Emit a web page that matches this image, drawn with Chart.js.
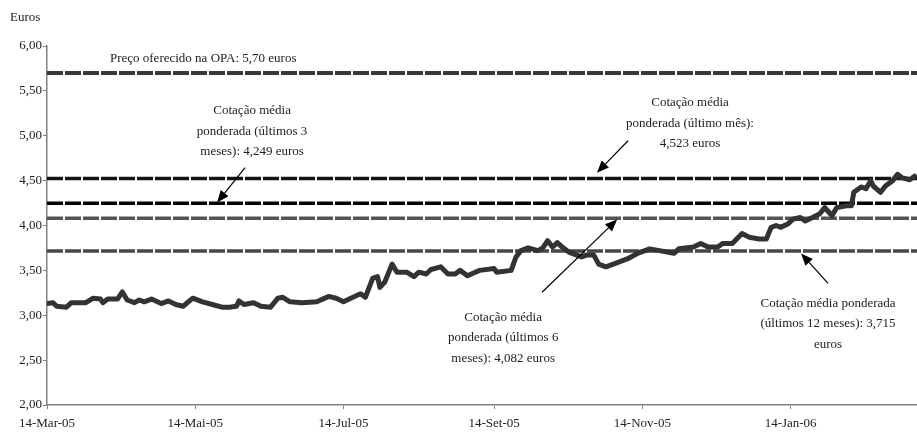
<!DOCTYPE html>
<html>
<head>
<meta charset="utf-8">
<script src="https://cdn.jsdelivr.net/npm/chart.js@4.4.1/dist/chart.umd.min.js"></script>
<style>
    body { margin: 0; background: #ffffff; }
    #chart { display: block; }
</style>
</head>
<body>
<canvas id="chart" width="917" height="432"></canvas>
<script>
// ===== DATA =====
// days counted from 14-Mar-05
const priceDays = [0, 2.5, 4, 8, 10, 16, 19, 22, 23, 25, 29, 31, 33, 36, 38, 40, 43, 47, 50, 53,
    56, 60, 64, 68, 72, 75, 78, 79, 81, 85, 88, 92, 95, 97, 100, 105, 111, 116, 119, 122,
    125, 129, 131, 134, 136, 137, 139, 142, 144, 148, 151, 153, 156, 158, 162, 165, 168, 170, 173, 178,
    184, 185, 191, 193, 195, 198, 202, 204, 206, 208, 210, 212, 215, 218, 220, 222, 225, 227, 230, 235,
    239, 243, 248, 252, 258, 260, 266, 269, 272, 276, 278, 282, 286, 289, 293, 296, 298, 300, 302, 305,
    307, 310, 312, 315, 318, 320, 321, 323, 325, 329, 331, 332, 335, 337, 339, 340, 343, 345, 348, 350,
    352, 355, 357];
const prices = [3.13, 3.14, 3.10, 3.09, 3.14, 3.14, 3.19, 3.18, 3.14, 3.18, 3.18, 3.26, 3.17, 3.14, 3.17, 3.15, 3.18, 3.13, 3.16, 3.12,
    3.10, 3.19, 3.15, 3.12, 3.09, 3.09, 3.10, 3.16, 3.12, 3.14, 3.10, 3.09, 3.19, 3.20, 3.15, 3.14, 3.15, 3.21, 3.19, 3.15,
    3.19, 3.24, 3.20, 3.41, 3.43, 3.31, 3.37, 3.57, 3.48, 3.48, 3.43, 3.48, 3.46, 3.51, 3.54, 3.46, 3.46, 3.50, 3.44, 3.50,
    3.52, 3.48, 3.50, 3.65, 3.72, 3.75, 3.72, 3.75, 3.83, 3.76, 3.81, 3.76, 3.70, 3.67, 3.65, 3.67, 3.67, 3.57, 3.54, 3.59,
    3.63, 3.69, 3.74, 3.72, 3.69, 3.74, 3.76, 3.80, 3.76, 3.76, 3.80, 3.80, 3.91, 3.87, 3.85, 3.85, 3.98, 4.00, 3.98, 4.02,
    4.07, 4.09, 4.05, 4.09, 4.13, 4.20, 4.17, 4.11, 4.20, 4.22, 4.22, 4.37, 4.43, 4.41, 4.50, 4.44, 4.37, 4.44, 4.50, 4.57,
    4.53, 4.51, 4.55];

const tickDays = [0, 61, 122, 184, 245, 306];
const tickLabels = ['14-Mar-05', '14-Mai-05', '14-Jul-05', '14-Set-05', '14-Nov-05', '14-Jan-06'];
const lastDay = 358;

// reference levels: OPA, 1 month, 3 months, 6 months, 12 months
const refLevels = [5.70, 4.523, 4.249, 4.082, 3.715];
const refColors = ['#383838', '#141414', '#000000', '#555555', '#474747'];
const refWidths = [4, 3.5, 3.5, 3.5, 3.5];

// annotations: text lines, anchor (day, value), arrow tail -> tip (day, value)
const noteTexts = [
    ['Cotação média', 'ponderada (últimos 3', 'meses): 4,249 euros'],
    ['Cotação média', 'ponderada (último mês):', '4,523 euros'],
    ['Cotação média', 'ponderada (últimos 6', 'meses): 4,082 euros'],
    ['Cotação média ponderada', '(últimos 12 meses): 3,715', 'euros']
];
const noteAnchors = [[84.4, 5.278], [264.6, 5.367], [187.7, 2.978], [321.4, 3.133]];
const arrowTails = [[81.5, 4.644], [239.1, 4.944], [203.7, 3.256], [321.4, 3.356]];
const arrowTips = [[70.0, 4.256], [226.3, 4.589], [234.6, 4.067], [310.3, 3.689]];
const offerText = 'Preço oferecido na OPA: 5,70 euros';
const offerAnchor = [25.9, 5.856];

const FONT = '"Liberation Serif", "DejaVu Serif", serif';

// ===== ANNOTATION PLUGIN =====
const notesPlugin = {
    id: 'notes',
    afterDatasetsDraw(chart) {
        const ctx = chart.ctx;
        const xs = chart.scales.x;
        const ys = chart.scales.y;
        ctx.save();
        ctx.fillStyle = '#222';
        ctx.font = '13px ' + FONT;
        ctx.textBaseline = 'middle';

        // axis unit
        ctx.textAlign = 'left';
        ctx.fillText('Euros', 10, 18);

        // offer label
        ctx.fillText(offerText, xs.getPixelForValue(offerAnchor[0]), ys.getPixelForValue(offerAnchor[1]));

        // text blocks
        ctx.textAlign = 'center';
        noteTexts.forEach((lines, i) => {
            const x = xs.getPixelForValue(noteAnchors[i][0]);
            const y = ys.getPixelForValue(noteAnchors[i][1]);
            lines.forEach((line, j) => ctx.fillText(line, x, y + j * 20.5));
        });

        // arrows
        ctx.strokeStyle = '#000';
        ctx.fillStyle = '#000';
        ctx.lineWidth = 1.2;
        arrowTails.forEach((tail, i) => {
            const x0 = xs.getPixelForValue(tail[0]);
            const y0 = ys.getPixelForValue(tail[1]);
            const x1 = xs.getPixelForValue(arrowTips[i][0]);
            const y1 = ys.getPixelForValue(arrowTips[i][1]);
            const a = Math.atan2(y1 - y0, x1 - x0);
            const len = 12, half = 5;
            const bx = x1 - len * Math.cos(a);
            const by = y1 - len * Math.sin(a);
            ctx.beginPath();
            ctx.moveTo(x0, y0);
            ctx.lineTo(bx, by);
            ctx.stroke();
            ctx.beginPath();
            ctx.moveTo(x1, y1);
            ctx.lineTo(bx + half * Math.sin(a), by - half * Math.cos(a));
            ctx.lineTo(bx - half * Math.sin(a), by + half * Math.cos(a));
            ctx.closePath();
            ctx.fill();
        });
        ctx.restore();
    }
};

// ===== CHART =====
const refDatasets = refLevels.map((level, i) => ({
    data: [{ x: 0, y: level }, { x: lastDay, y: level }],
    borderColor: refColors[i],
    borderWidth: refWidths[i],
    borderDash: [16, 2],
    pointRadius: 0,
    order: 2
}));

new Chart(document.getElementById('chart'), {
    type: 'line',
    data: {
        datasets: [{
            data: priceDays.map((d, i) => ({ x: d, y: prices[i] })),
            borderColor: '#333333',
            borderWidth: 5,
            borderJoinStyle: 'round',
            borderCapStyle: 'round',
            pointRadius: 0,
            tension: 0,
            order: 1
        }].concat(refDatasets)
    },
    options: {
        responsive: false,
        devicePixelRatio: 1,
        animation: false,
        layout: { padding: { top: 46, left: 0, right: 0, bottom: 0 } },
        plugins: {
            legend: { display: false },
            tooltip: { enabled: false }
        },
        scales: {
            x: {
                type: 'linear',
                min: 0,
                max: lastDay,
                afterBuildTicks: scale => { scale.ticks = tickDays.map(v => ({ value: v })); },
                afterFit: scale => { scale.height = 27; },
                ticks: {
                    autoSkip: false,
                    maxRotation: 0,
                    padding: 7,
                    color: '#222',
                    font: { family: FONT, size: 13 },
                    callback: (v, i) => tickLabels[i]
                },
                grid: { drawOnChartArea: false, drawTicks: true, tickLength: 4, color: '#808080' },
                border: { display: true, color: '#808080', width: 1.5 }
            },
            y: {
                min: 2,
                max: 6,
                afterFit: scale => { scale.width = 47; },
                ticks: {
                    stepSize: 0.5,
                    padding: 1,
                    color: '#222',
                    font: { family: FONT, size: 13 },
                    callback: v => v.toFixed(2).replace('.', ',')
                },
                grid: { drawOnChartArea: false, drawTicks: true, tickLength: 4, color: '#808080' },
                border: { display: true, color: '#808080', width: 1.5 }
            }
        }
    },
    plugins: [notesPlugin]
});
</script>
</body>
</html>
